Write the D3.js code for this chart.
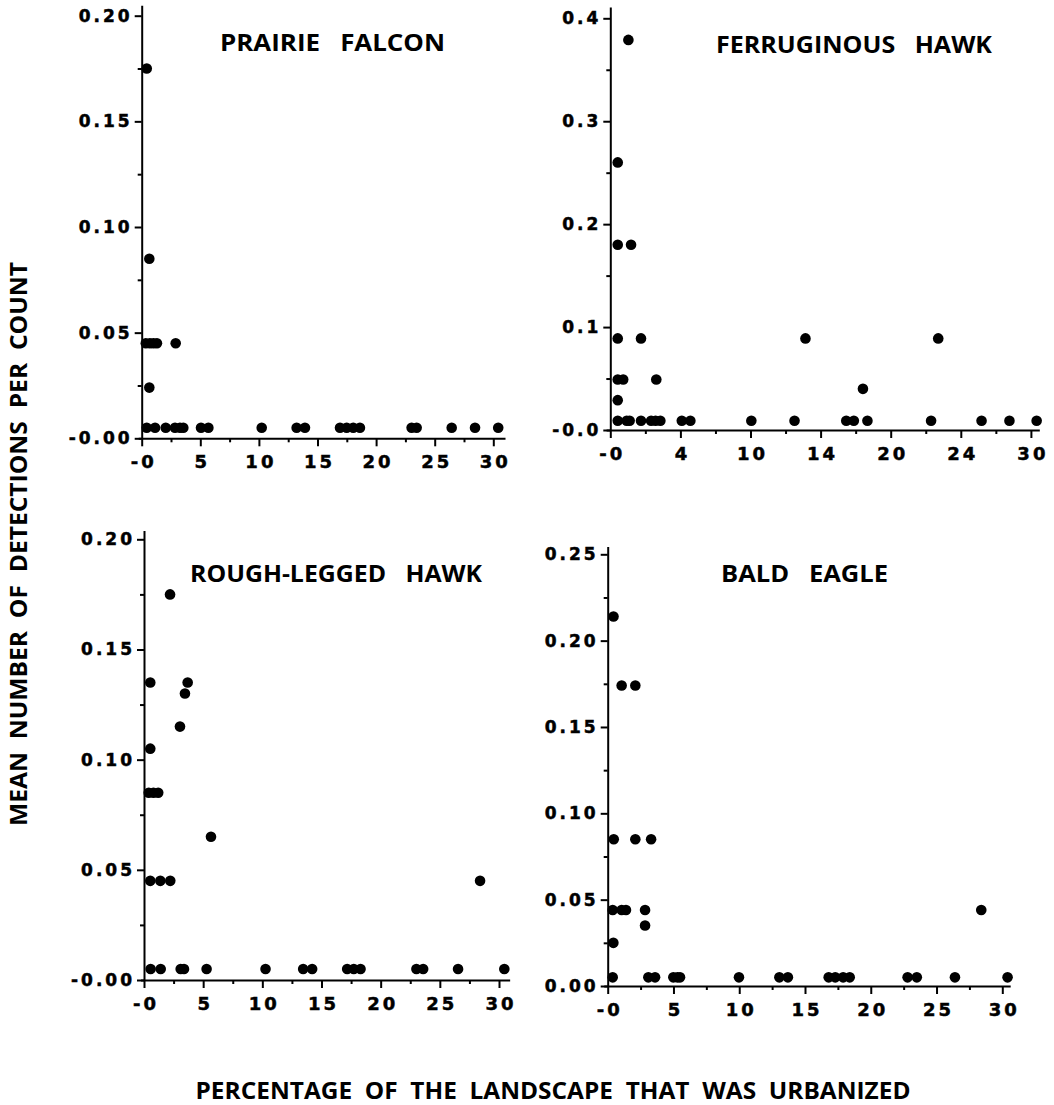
<!DOCTYPE html>
<html>
<head>
<meta charset="utf-8">
<script src="https://cdn.jsdelivr.net/npm/d3@7"></script>
<style>
body{margin:0;background:#fff}
svg{display:block}
.tick text{font-family:"DejaVu Sans",sans-serif;font-weight:bold;fill:#000;stroke:#000;stroke-width:0.5px}
.ttl{font-family:"Open Sans",sans-serif;font-weight:700;fill:#000;white-space:pre}
</style>
</head>
<body>
<script>
// x = percentage urbanized, y = mean detections per count
let pfX = [0.43,0.65,0.35,0.7,1.0,1.3,2.9,0.65,
  0.43,1.14,2.05,2.84,3.27,3.55,5.06,5.69,10.24,13.22,13.93,16.92,17.49,18.05,18.62,23.03,23.46,26.45,28.44,30.42];
let pfY = [0.175,0.085,0.045,0.045,0.045,0.045,0.045,0.024,
  0.005,0.005,0.005,0.005,0.005,0.005,0.005,0.005,0.005,0.005,0.005,0.005,0.005,0.005,0.005,0.005,0.005,0.005,0.005,0.005];

let fhX = [1.29,0.53,0.53,1.48,0.53,2.19,13.92,23.39,0.53,0.92,3.28,0.53,18.02,
  0.53,1.17,1.38,2.19,2.91,3.23,3.57,5.10,5.71,10.06,13.14,16.83,17.37,18.34,22.88,26.48,28.47,30.41];
let fhY = [0.379,0.26,0.18,0.18,0.089,0.089,0.089,0.089,0.049,0.049,0.049,0.029,0.04,
  0.009,0.009,0.009,0.009,0.009,0.009,0.009,0.009,0.009,0.009,0.009,0.009,0.009,0.009,0.009,0.009,0.009,0.009];

let rlX = [2.2,0.53,3.69,3.46,3.04,0.53,0.4,0.8,1.2,5.66,0.53,1.38,2.22,28.4,
  0.56,1.41,3.1,3.38,5.29,10.27,13.45,14.21,17.17,17.73,18.3,23.02,23.59,26.54,30.45];
let rlY = [0.175,0.135,0.135,0.13,0.115,0.105,0.085,0.085,0.085,0.065,0.045,0.045,0.045,0.045,
  0.005,0.005,0.005,0.005,0.005,0.005,0.005,0.005,0.005,0.005,0.005,0.005,0.005,0.005,0.005];

let beX = [0.44,1.06,2.1,0.46,2.1,3.3,0.38,1.06,1.39,2.84,2.84,0.43,28.4,
  0.38,3.09,3.6,4.99,5.3,5.5,9.98,13.05,13.7,16.8,17.3,17.9,18.4,22.8,23.5,26.4,30.4];
let beY = [0.214,0.174,0.174,0.085,0.085,0.085,0.044,0.044,0.044,0.044,0.035,0.025,0.044,
  0.005,0.005,0.005,0.005,0.005,0.005,0.005,0.005,0.005,0.005,0.005,0.005,0.005,0.005,0.005,0.005,0.005];

// tick values and labels
let xTicks = [0,5,10,15,20,25,30];
let xMinor = [2.5,7.5,12.5,17.5,22.5,27.5];
let xLabels = ["-0","5","10","15","20","25","30"];
let xLabelsFH = ["-0","4","10","14","20","24","30"];
let yTicks20 = [0,0.05,0.10,0.15,0.20];
let yMinor20 = [0.025,0.075,0.125,0.175];
let yLabelsPF = ["-0.00","0.05","0.10","0.15","0.20"];
let yTicksFH = [0,0.1,0.2,0.3,0.4];
let yMinorFH = [0.05,0.15,0.25,0.35];
let yLabelsFH = ["-0.0","0.1","0.2","0.3","0.4"];
let yTicksBE = [0,0.05,0.10,0.15,0.20,0.25];
let yMinorBE = [0.025,0.075,0.125,0.175,0.225];
let yLabelsBE = ["0.00","0.05","0.10","0.15","0.20","0.25"];

let svg = d3.select("body").append("svg")
    .attr("width", 1054)
    .attr("height", 1105);

// layout of each panel: pixel of x=0 and x=30, pixel of y=0 and of top tick
let panels = [
  {title:"PRAIRIE   FALCON", xs:pfX, ys:pfY, xl:xLabels, yt:yTicks20, ym:yMinor20, yl:yLabelsPF,
   px0:141.7, px30:493.3, xMax:31.0, py0:438.3, pyTop:15.7, yMax:0.205, tx:220, tw:225, tb:51},
  {title:"FERRUGINOUS   HAWK", xs:fhX, ys:fhY, xl:xLabelsFH, yt:yTicksFH, ym:yMinorFH, yl:yLabelsFH,
   px0:610.3, px30:1030.9, xMax:30.6, py0:430, pyTop:18.3, yMax:0.411, tx:716, tw:276, tb:53},
  {title:"ROUGH-LEGGED   HAWK", xs:rlX, ys:rlY, xl:xLabels, yt:yTicks20, ym:yMinor20, yl:yLabelsPF,
   px0:144, px30:499, xMax:30.9, py0:980, pyTop:539.3, yMax:0.204, tx:190, tw:292, tb:582},
  {title:"BALD   EAGLE", xs:beX, ys:beY, xl:xLabels, yt:yTicksBE, ym:yMinorBE, yl:yLabelsBE,
   px0:607.7, px30:1002.3, xMax:30.6, py0:986, pyTop:554.3, yMax:0.2545, tx:721, tw:167, tb:582}
];

function drawPanel(p)
{
  let g = svg.append("g");
  let k = (p.px30 - p.px0) / 30;
  let x = d3.scaleLinear().domain([-0.3, p.xMax]).range([p.px0 - 0.3*k, p.px0 + p.xMax*k]);
  let top = p.yt[p.yt.length-1];
  let ky = (p.py0 - p.pyTop) / top;
  let y = d3.scaleLinear().domain([0, p.yMax]).range([p.py0, p.py0 - p.yMax*ky]);

  // x axis
  let gx = g.append("g").attr("transform", "translate(0," + y(0) + ")")
    .call(d3.axisBottom(x).tickValues(xTicks).tickFormat((d,i) => p.xl[i])
      .tickSize(8).tickPadding(9).tickSizeOuter(0));
  gx.append("g").call(d3.axisBottom(x).tickValues(xMinor).tickFormat("").tickSize(4))
    .select(".domain").remove();
  gx.selectAll(".tick text").attr("font-size", 18).attr("letter-spacing", 3).attr("dx", 1.5);

  // y axis
  let gy = g.append("g").attr("transform", "translate(" + x(0) + ",0)")
    .call(d3.axisLeft(y).tickValues(p.yt).tickFormat((d,i) => p.yl[i])
      .tickSize(7).tickPadding(2).tickSizeOuter(0));
  gy.append("g").call(d3.axisLeft(y).tickValues(p.ym).tickFormat("").tickSize(4))
    .select(".domain").remove();
  gy.selectAll(".tick text").attr("font-size", 17).attr("letter-spacing", 3);

  g.selectAll(".domain, .tick line").attr("stroke", "#000").attr("stroke-width", 2);

  g.selectAll("circle.dot")
    .data(d3.range(p.xs.length))
    .enter().append("circle")
    .attr("class", "dot")
    .attr("cx", i => x(p.xs[i]))
    .attr("cy", i => y(p.ys[i]))
    .attr("r", 5.3)
    .attr("fill", "#000");

  g.append("text").attr("class", "ttl")
    .attr("x", p.tx).attr("y", p.tb)
    .attr("font-size", 24)
    .attr("textLength", p.tw).attr("lengthAdjust", "spacingAndGlyphs")
    .text(p.title);
}

panels.forEach(drawPanel);

// shared axis titles
svg.append("text").attr("class", "ttl")
  .attr("transform", "translate(27,544) rotate(-90)")
  .attr("text-anchor", "middle")
  .attr("font-size", 23)
  .attr("textLength", 564).attr("lengthAdjust", "spacingAndGlyphs")
  .text("MEAN  NUMBER  OF  DETECTIONS  PER  COUNT");

svg.append("text").attr("class", "ttl")
  .attr("x", 553).attr("y", 1099)
  .attr("text-anchor", "middle")
  .attr("font-size", 23)
  .attr("textLength", 715).attr("lengthAdjust", "spacingAndGlyphs")
  .text("PERCENTAGE  OF  THE  LANDSCAPE  THAT  WAS  URBANIZED");
</script>
</body>
</html>
